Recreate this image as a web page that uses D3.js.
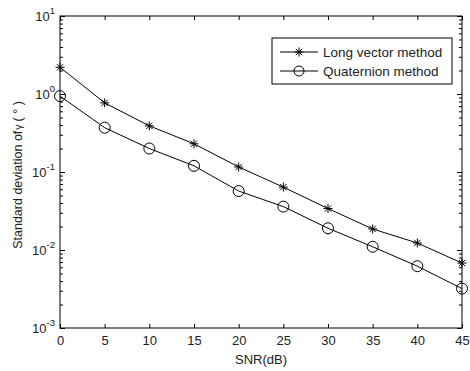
<!DOCTYPE html>
<html>
<head>
<meta charset="utf-8">
<script src="https://cdn.jsdelivr.net/npm/d3@7"></script>
<style>
  body { margin: 0; background: #fff; }
  text { font-family: "Liberation Sans", Arial, sans-serif; }
</style>
</head>
<body>
<svg id="chart" width="470" height="371"></svg>
<script>
// data
var snr = [0, 5, 10, 15, 20, 25, 30, 35, 40, 45];
var longVector = [2.2, 0.77, 0.39, 0.23, 0.116, 0.064, 0.034, 0.0186, 0.0123, 0.0068];
var quaternion = [0.94, 0.37, 0.2, 0.12, 0.057, 0.036, 0.019, 0.011, 0.0062, 0.0032];
var xTicks = [0, 5, 10, 15, 20, 25, 30, 35, 40, 45];
var yExps = [1, 0, -1, -2, -3];
var seriesNames = ["Long vector method", "Quaternion method"];

var svg = d3.select("#chart"),
  margin = { top: 16, right: 8, bottom: 43, left: 60 },
  width = +svg.attr("width") - margin.left - margin.right,
  height = +svg.attr("height") - margin.top - margin.bottom,
  g = svg.append("g").attr("transform", "translate(" + margin.left + "," + margin.top + ")");

var x = d3.scaleLinear().domain([0, 45]).range([0, width]);
var y = d3.scaleLog().domain([1e-3, 10]).range([height, 0]);

// minor ticks
var minor = [];
for (var e = -3; e < 1; e++) {
  for (var k = 2; k <= 9; k++) minor.push(k * Math.pow(10, e));
}

// left / right ticks (inside)
g.append("g").call(d3.axisLeft(y).tickValues(minor).tickSize(-3).tickFormat(""))
  .call(function (s) { s.select(".domain").remove(); });
g.append("g").attr("transform", "translate(" + width + ",0)")
  .call(d3.axisRight(y).tickValues(minor).tickSize(-3).tickFormat(""))
  .call(function (s) { s.select(".domain").remove(); });
g.append("g").call(d3.axisLeft(y).tickValues(yExps.map(function (p) { return Math.pow(10, p); })).tickSize(-5).tickFormat(""))
  .call(function (s) { s.select(".domain").remove(); });
g.append("g").attr("transform", "translate(" + width + ",0)")
  .call(d3.axisRight(y).tickValues(yExps.map(function (p) { return Math.pow(10, p); })).tickSize(-5).tickFormat(""))
  .call(function (s) { s.select(".domain").remove(); });

// bottom / top ticks
var xb = g.append("g").attr("transform", "translate(0," + height + ")")
  .call(d3.axisBottom(x).tickValues(xTicks).tickSize(-4).tickPadding(8));
xb.select(".domain").remove();
xb.selectAll("text").attr("font-size", 13).attr("fill", "#222");
g.append("g").call(d3.axisTop(x).tickValues(xTicks).tickSize(-4).tickFormat(""))
  .select(".domain").remove();
g.selectAll(".tick line").attr("stroke", "#000");

// frame
g.append("rect").attr("width", width).attr("height", height)
  .attr("fill", "none").attr("stroke", "#000").attr("stroke-width", 1);

// y tick labels 10^n
yExps.forEach(function (p) {
  var t = g.append("text").attr("x", -5).attr("y", y(Math.pow(10, p)) + 5)
    .attr("text-anchor", "end").attr("font-size", 13).attr("fill", "#222");
  t.append("tspan").text("10");
  t.append("tspan").attr("dy", -7).attr("font-size", 9.5).text(p);
});

// lines
var line = d3.line()
  .x(function (d, i) { return x(snr[i]); })
  .y(function (d) { return y(d); });

g.append("path").datum(longVector).attr("fill", "none").attr("stroke", "#000")
  .attr("stroke-width", 1).attr("d", line);
g.append("path").datum(quaternion).attr("fill", "none").attr("stroke", "#000")
  .attr("stroke-width", 1).attr("d", line);

function star(sel, cx, cy) {
  var r = 4.5;
  var p = "M" + (cx - r) + "," + cy + "h" + (2 * r) +
    "M" + cx + "," + (cy - r) + "v" + (2 * r) +
    "M" + (cx - r * 0.7) + "," + (cy - r * 0.7) + "l" + (1.4 * r) + "," + (1.4 * r) +
    "M" + (cx - r * 0.7) + "," + (cy + r * 0.7) + "l" + (1.4 * r) + "," + (-1.4 * r);
  sel.append("path").attr("d", p).attr("stroke", "#000").attr("stroke-width", 1).attr("fill", "none");
}

longVector.forEach(function (d, i) { star(g, x(snr[i]), y(d)); });
g.selectAll(".qpt").data(quaternion).enter().append("circle")
  .attr("class", "qpt")
  .attr("cx", function (d, i) { return x(snr[i]); })
  .attr("cy", function (d) { return y(d); })
  .attr("r", 5.5).attr("fill", "none").attr("stroke", "#000").attr("stroke-width", 1);

// legend
var lg = svg.append("g").attr("transform", "translate(272,38)");
lg.append("rect").attr("width", 180).attr("height", 46)
  .attr("fill", "#fff").attr("stroke", "#000").attr("stroke-width", 1);
seriesNames.forEach(function (name, i) {
  var ly = 14 + i * 19;
  lg.append("line").attr("x1", 8).attr("x2", 46).attr("y1", ly).attr("y2", ly)
    .attr("stroke", "#000").attr("stroke-width", 1);
  if (i == 0) star(lg, 27, ly);
  else lg.append("circle").attr("cx", 27).attr("cy", ly).attr("r", 5).attr("fill", "none").attr("stroke", "#000");
  lg.append("text").attr("x", 51).attr("y", ly + 5).attr("font-size", 13.5).attr("fill", "#222").text(name);
});

// axis labels
svg.append("text").attr("x", margin.left + width / 2).attr("y", 364)
  .attr("text-anchor", "middle").attr("font-size", 13).attr("fill", "#222").text("SNR(dB)");
var yl = svg.append("text")
  .attr("transform", "translate(22,175) rotate(-90)")
  .attr("text-anchor", "middle").attr("font-size", 12.5).attr("fill", "#222");
yl.append("tspan").text("Standard deviation of");
yl.append("tspan").attr("font-size", 10.5).attr("dx", 1).text("γ");
yl.append("tspan").attr("dx", 3).text("( ° )");
</script>
</body>
</html>
